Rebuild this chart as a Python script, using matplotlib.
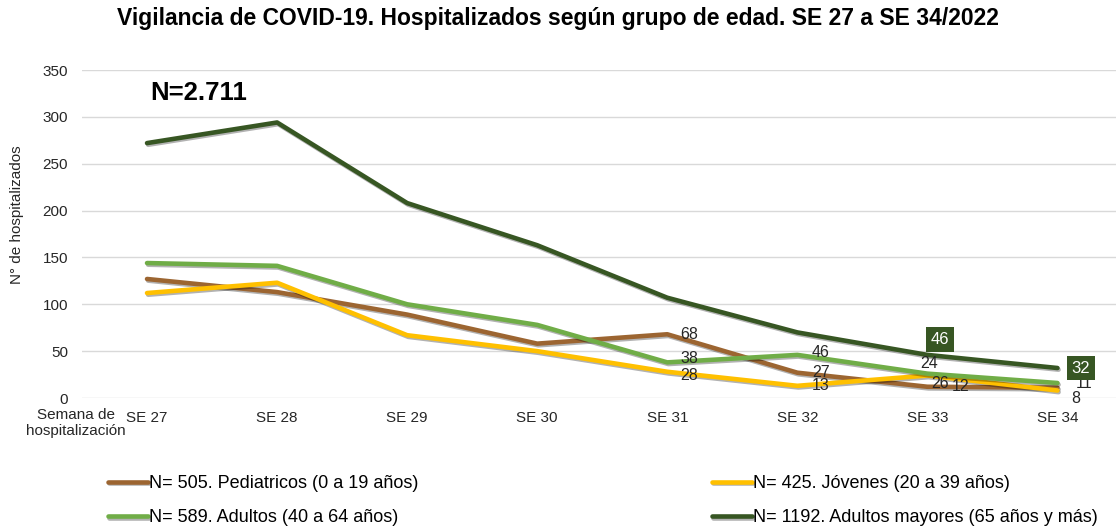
"""Vigilancia de COVID-19: hospitalizados por grupo de edad, SE 27 a SE 34/2022."""

import matplotlib

matplotlib.use("Agg")
import matplotlib.patheffects as pe
import matplotlib.pyplot as plt

plt.rcParams["font.family"] = ["Liberation Sans", "DejaVu Sans"]

weeks = ["SE 27", "SE 28", "SE 29", "SE 30", "SE 31", "SE 32", "SE 33", "SE 34"]
pediatricos = [127, 113, 89, 58, 68, 27, 12, 11]
jovenes = [112, 123, 67, 50, 28, 13, 24, 8]
adultos = [144, 141, 100, 78, 38, 46, 26, 16]
mayores = [272, 294, 208, 163, 107, 70, 46, 32]

series = [
    ("N= 505. Pediatricos (0 a 19 años)", pediatricos, "#9C6531"),
    ("N= 425. Jóvenes (20 a 39 años)", jovenes, "#FFC000"),
    ("N= 589. Adultos (40 a 64 años)", adultos, "#70AD47"),
    ("N= 1192. Adultos mayores (65 años y más)", mayores, "#375623"),
]

# (series index, week index, dx, dy) label offsets in points
plain_labels = [
    (0, 4, 16, 0), (2, 4, 16, 3), (1, 4, 16, -3),
    (2, 5, 17, 2), (0, 5, 17, 0), (1, 5, 17, 0),
    (1, 6, 1, 9), (2, 6, 9, -7), (0, 6, 24, 0),
    (0, 7, 19, 3), (1, 7, 13, -6),
]
boxed_labels = [(3, 6, 9, 11), (3, 7, 17, 0)]

fig = plt.figure(figsize=(11.16, 5.30), dpi=100)
ax = fig.add_axes([82 / 1116, 132 / 530, 1034 / 1116, 328 / 530])

x = list(range(len(weeks)))
shadow = [pe.SimpleLineShadow(offset=(0.8, -1.2), alpha=0.3), pe.Normal()]
lines = []
for label, values, color in series:
    line, = ax.plot(x, values, color=color, lw=3.3, label=label, path_effects=shadow,
                    solid_joinstyle="round", solid_capstyle="round")
    lines.append(line)

for si, wi, dx, dy in plain_labels:
    ax.annotate(str(series[si][1][wi]), (wi, series[si][1][wi]), xytext=(dx, dy),
                textcoords="offset points", ha="center", va="center", fontsize=11.5,
                color="#262626")
for si, wi, dx, dy in boxed_labels:
    ax.annotate(str(series[si][1][wi]), (wi, series[si][1][wi]), xytext=(dx, dy),
                textcoords="offset points", ha="center", va="center", fontsize=12,
                color="white",
                bbox=dict(boxstyle="square,pad=0.28", fc="#375623", ec="none"))

ax.set_xlim(-0.5, 7.45)
ax.set_ylim(0, 350)
ax.set_yticks(range(0, 351, 50))
ax.set_xticks(x)
ax.set_xticklabels(weeks)
ax.grid(axis="y", color="#D9D9D9", lw=1)
ax.set_axisbelow(True)
for spine in ax.spines.values():
    spine.set_visible(False)
ax.tick_params(length=0, labelsize=11, colors="#262626")
ax.tick_params(axis="y", pad=10)
ax.tick_params(axis="x", pad=9)
ax.set_ylabel("N° de hospitalizados", fontsize=11, color="#262626")
ax.yaxis.set_label_coords(-0.056, 0.558)

fig.text(0.5, 1 - 18 / 530,
         "Vigilancia de COVID-19. Hospitalizados según grupo de edad. SE 27 a SE 34/2022",
         ha="center", va="center", fontsize=16.5, fontweight="bold")
fig.text(150 / 1116, 1 - 93 / 530, "N=2.711", ha="left", va="center",
         fontsize=18.5, fontweight="bold")
fig.text(76 / 1116, 1 - 423 / 530, "Semana de\nhospitalización", ha="center", va="center",
         fontsize=11, color="#262626", linespacing=1.2)

order = [0, 2, 1, 3]
fig.legend([lines[i] for i in order], [series[i][0] for i in order],
           loc="upper left", bbox_to_anchor=(108 / 1116, 1 - 475 / 530), ncol=2,
           frameon=False, fontsize=13, handlelength=2.2, handletextpad=0.05,
           columnspacing=16.3, labelspacing=0.95, borderpad=0, borderaxespad=0)

fig.savefig("out.png", dpi=100)
